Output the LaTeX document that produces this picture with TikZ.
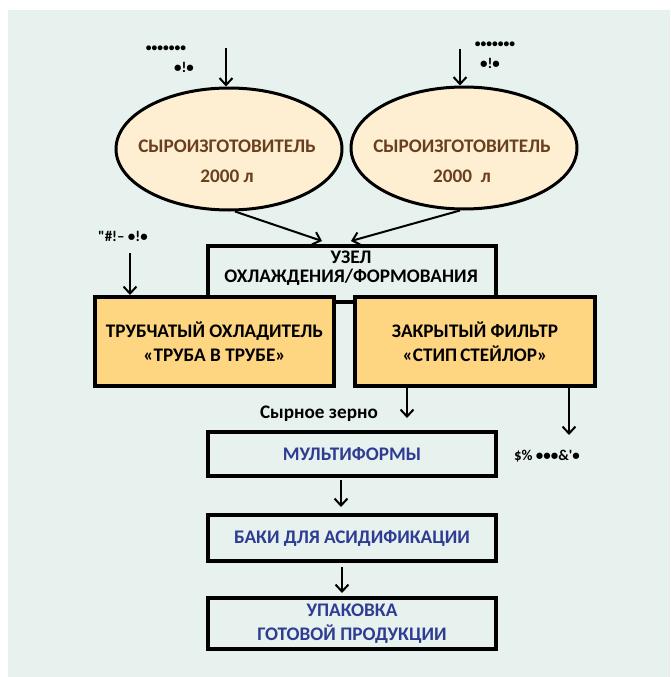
\documentclass[tikz,border=0pt]{standalone}
\usepackage{fontspec}
\setmainfont{Carlito}
\usetikzlibrary{arrows.meta,shapes.geometric}

\definecolor{bggreen}{HTML}{E7F2EE}
\definecolor{tankfill}{HTML}{FEEFD2}
\definecolor{tanktext}{HTML}{6A3F1E}
\definecolor{coolfill}{HTML}{FED580}
\definecolor{stagetext}{HTML}{2E3C93}

\begin{document}
\begin{tikzpicture}[x=1pt,y=-1pt,
    font=\fontsize{19.2}{24}\selectfont\bfseries,
    tank/.style={ellipse, draw, line width=3pt, fill=tankfill, minimum width=226pt, minimum height=122pt, inner sep=0pt},
    tanklabel/.style={text=tanktext, align=center},
    stage/.style={draw, line width=4pt, minimum width=288pt, inner sep=0pt, text=stagetext, align=center},
    cooler/.style={draw, line width=4pt, fill=coolfill, minimum height=89pt, inner sep=0pt, align=center},
    flow/.style={-{Straight Barb[length=7pt,width=13pt]}, line width=2pt},
    note/.style={font=\fontsize{15}{17}\selectfont\bfseries},
    dots/.style={font=\fontsize{11.5}{13}\selectfont\bfseries}]
    % Page and panel
    \useasboundingbox (0,0) rectangle (670,677);
    \fill[white] (0,0) rectangle (670,677);
    \fill[bggreen] (8,10) rectangle (670,677);

    % Cheese vats
    \node[tank] (tankL) at (229,149) {};
    \node[tanklabel] (tankLtext) at (227,161) {СЫРОИЗГОТОВИТЕЛЬ\\[6pt]2000 л};
    \node[tank] (tankR) at (464,148) {};
    \node[tanklabel] (tankRtext) at (462,161) {СЫРОИЗГОТОВИТЕЛЬ\\[6pt]2000~~л};

    % Inputs of the vats
    \coordinate (feedL) at (226,48);
    \coordinate (feedR) at (460,49);
    \draw[flow] (feedL) -- (feedL |- tankL.north);
    \draw[flow] (feedR) -- (feedR |- tankR.north);
    \node[dots] (feedLa) at (166,49) {•••••••};
    \node[note] (feedLb) at (184,67) {•!•};
    \node[dots] (feedRa) at (495,45) {•••••••};
    \node[note] (feedRb) at (490,63) {•!•};

    % Cooling / moulding unit
    \node[stage, minimum height=56pt, anchor=north] (hub) at (352,244) {};
    \node[align=center] (hubtext) at (351,268) {УЗЕЛ\\[-5pt]ОХЛАЖДЕНИЯ/ФОРМОВАНИЯ};
    \draw[flow] ([xshift=6pt]tankL.south) -- ([xshift=-30pt,yshift=3pt]hub.north);
    \draw[flow] ([xshift=-4pt]tankR.south) -- ([xshift=-1pt,yshift=3pt]hub.north);

    % Cooler and filter
    \node[cooler, minimum width=239pt] (cooler) at (214.5,341.5) {ТРУБЧАТЫЙ ОХЛАДИТЕЛЬ\\«ТРУБА В ТРУБЕ»};
    \node[cooler, minimum width=240pt] (filter) at (475,341.5) {ЗАКРЫТЫЙ ФИЛЬТР\\«СТИП\,СТЕЙЛОР»};

    % Side streams
    \coordinate (coolin) at (130,253);
    \draw[flow] (coolin) -- (coolin |- cooler.north);
    \node[note] (coolinlabel) at (123,236) {\textquotedbl\#!– •!•};
    \coordinate (grainend) at (407,418);
    \coordinate (wheyend) at (569,435);
    \draw[flow] (filter.south -| grainend) -- (grainend);
    \draw[flow] (filter.south -| wheyend) -- (wheyend);
    \node (grain) at (319,414) {Сырное зерно};
    \node[note] (whey) at (547,456) {\$\% •••\&\textquotesingle•};

    % Line
    \node[stage, minimum height=44pt] (multi) at (352,454) {МУЛЬТИФОРМЫ};
    \node[stage, minimum height=46pt] (vats) at (352,538) {БАКИ ДЛЯ АСИДИФИКАЦИИ};
    \node[stage, minimum height=51pt] (pack) at (352,623.5) {УПАКОВКА\\ГОТОВОЙ ПРОДУКЦИИ};
    \draw[flow, shorten <=2pt, shorten >=6pt] ([xshift=-11pt]multi.south) -- ([xshift=-11pt]vats.north);
    \draw[flow, shorten <=4pt, shorten >=3pt] ([xshift=-10pt]vats.south) -- ([xshift=-10pt]pack.north);
\end{tikzpicture}
\end{document}
